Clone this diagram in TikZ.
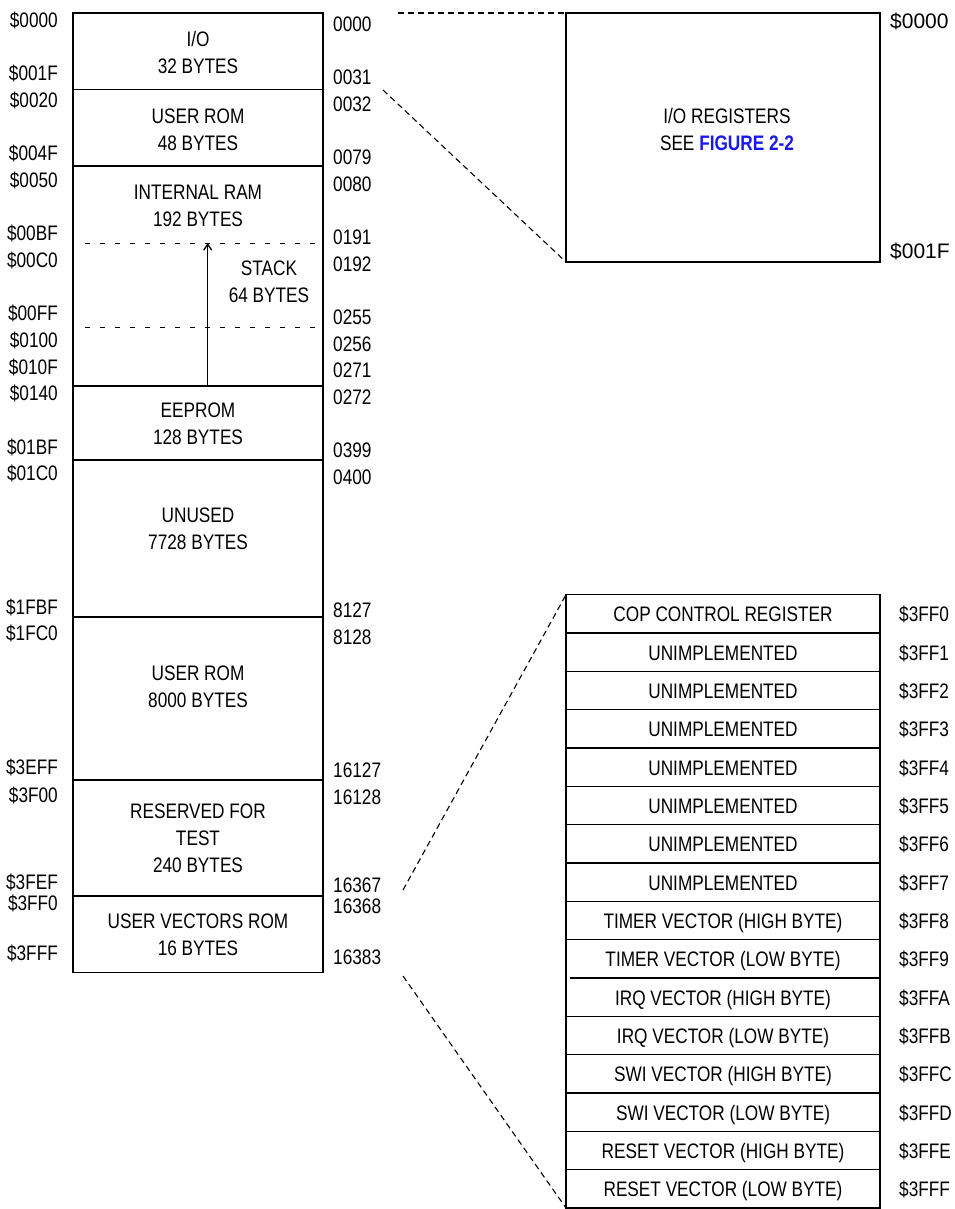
\documentclass[tikz,border=0pt]{standalone}
\usepackage{fontspec}
\setmainfont{Liberation Sans}[FakeStretch=0.82]
\newfontfamily\largeur{Liberation Sans}
\usetikzlibrary{arrows.meta}
\definecolor{monBleu}{RGB}{25,25,235}

\begin{document}
\begin{tikzpicture}[x=1pt,y=-1pt,
    txt/.style={font=\fontsize{21}{26.7}\selectfont, inner sep=0pt, align=center},
    adr/.style={font=\fontsize{21}{26.7}\selectfont, inner sep=0pt},
    cadre/.style={line width=1.5pt},
    zoomlien/.style={dash pattern=on 6pt off 4pt, line width=1.1pt}]
        \useasboundingbox (0,0) rectangle (954,1209);

        % La carte memoire
        \draw[cadre] (73,13) rectangle (323,972.5);
        \foreach \y in {89.5,166,386,460,617,780,896}
            \draw[cadre] (73,\y) -- (323,\y);

        % Limites de la pile
        \foreach \y in {243,327}
            \draw[line width=1pt, dash pattern=on 5pt off 10pt] (85,\y) -- (323,\y);
        \coordinate (pile bas) at (207.7,386);
        \coordinate (pile haut) at (207.7,243);
        \draw[line width=1.3pt, -{Straight Barb[length=6pt,width=8pt]}] (pile bas) -- (pile haut);

        % Textes des blocs
        \node[txt] (io) at (198,52.5) {I/O\\32 BYTES};
        \node[txt] (rom a) at (198,129.5) {USER ROM\\48 BYTES};
        \node[txt] (ram) at (198,206) {INTERNAL RAM\\192 BYTES};
        \node[txt] (pile) at (269,282) {STACK\\64 BYTES};
        \node[txt] (eeprom) at (198,423.5) {EEPROM\\128 BYTES};
        \node[txt] (libre) at (198,528.5) {UNUSED\\7728 BYTES};
        \node[txt] (rom b) at (198,686.5) {USER ROM\\8000 BYTES};
        \node[txt] (test) at (198,838.3) {RESERVED FOR\\TEST\\240 BYTES};
        \node[txt] (vect) at (198,935) {USER VECTORS ROM\\16 BYTES};

        % Adresses hexadecimales (gauche)
        \foreach \y/\t [count=\i] in {27.5/\$0000, 80.5/\$001F, 107.5/\$0020, 160.5/\$004F,
            187.5/\$0050, 240.5/\$00BF, 267.5/\$00C0, 320.5/\$00FF, 347.5/\$0100,
            374.5/\$010F, 400.5/\$0140, 454.5/\$01BF, 480.5/\$01C0, 614.5/\$1FBF,
            640.5/\$1FC0, 774.5/\$3EFF, 802.5/\$3F00, 889/\$3FEF, 910.5/\$3FF0, 960.5/\$3FFF}
            \node[adr, anchor=base east] (g\i) at (58,\y) {\t};

        % Adresses decimales (droite)
        \foreach \y/\t [count=\i] in {31.5/0000, 84.5/0031, 111.5/0032, 164.5/0079,
            191.5/0080, 244.5/0191, 271.5/0192, 324.5/0255, 351.5/0256, 377.5/0271,
            404.5/0272, 457.5/0399, 484.5/0400, 617.5/8127, 644.5/8128, 777.5/16127,
            804.5/16128, 892/16367, 913/16368, 964.5/16383}
            \node[adr, anchor=base west] (d\i) at (333,\y) {\t};

        % Registres d'E/S
        \draw[cadre] (566,13) rectangle (880,262);
        \node[txt] (reg) at (727,129.5) {I/O REGISTERS\\SEE \textcolor{monBleu}{\bfseries FIGURE 2-2}};
        \node[adr, font={\largeur\fontsize{21}{26.7}\selectfont}, anchor=base west] (reg a) at (890,28.5) {\$0000};
        \node[adr, font={\largeur\fontsize{21}{26.7}\selectfont}, anchor=base west] (reg b) at (890,258.5) {\$001F};

        % Table des vecteurs
        \draw[cadre] (566,594.7) rectangle (880,1208);
        \foreach \i in {1,...,9,11,12,13,14,15}
            \draw[cadre] (566,594.7+38.33*\i) -- (880,594.7+38.33*\i);
        \draw[cadre] (570,594.7+383.3) -- (880,594.7+383.3);
        \foreach \t/\h [count=\i from 0] in {COP CONTROL REGISTER/0, UNIMPLEMENTED/1,
            UNIMPLEMENTED/2, UNIMPLEMENTED/3, UNIMPLEMENTED/4, UNIMPLEMENTED/5,
            UNIMPLEMENTED/6, UNIMPLEMENTED/7, TIMER VECTOR (HIGH BYTE)/8,
            TIMER VECTOR (LOW BYTE)/9, IRQ VECTOR (HIGH BYTE)/A, IRQ VECTOR (LOW BYTE)/B,
            SWI VECTOR (HIGH BYTE)/C, SWI VECTOR (LOW BYTE)/D,
            RESET VECTOR (HIGH BYTE)/E, RESET VECTOR (LOW BYTE)/F}
        {
            \node[txt, anchor=base] (v\i) at (723,621.7+38.33*\i) {\t};
            \node[adr, anchor=base west] (a\i) at (899,621.7+38.33*\i) {\$3FF\h};
        }

        % Lignes de zoom en pointilles
        \coordinate (io debut) at (398,13);
        \coordinate (io fin) at (383,90);
        \coordinate (reg haut) at (566,13);
        \coordinate (reg bas) at (566,262);
        \coordinate (vec debut) at (403,890);
        \coordinate (vec fin) at (403,976);
        \coordinate (vec haut) at (566,594.7);
        \coordinate (vec bas) at (566,1208);
        \draw[zoomlien] (io debut) -- (reg haut);
        \draw[zoomlien] (io fin) -- (reg bas);
        \draw[zoomlien] (vec debut) -- (vec haut);
        \draw[zoomlien] (vec fin) -- (vec bas);
    \end{tikzpicture}
\end{document}
